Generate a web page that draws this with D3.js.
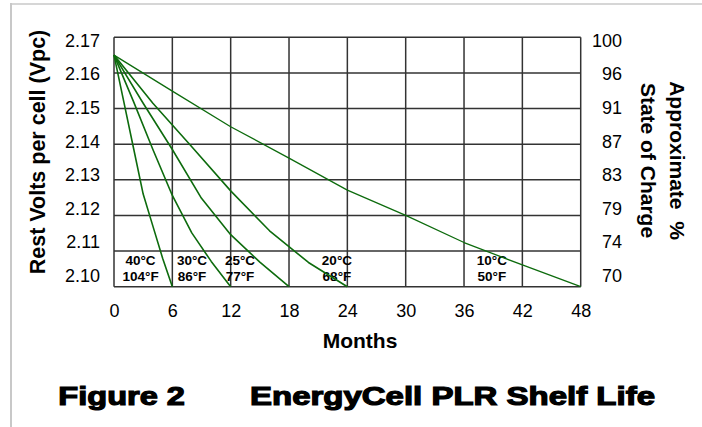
<!DOCTYPE html>
<html lang="en">
<head>
<meta charset="UTF-8">
<title>EnergyCell PLR Shelf Life</title>
<script src="https://d3js.org/d3.v7.min.js"></script>
<style>
  body { margin: 0; background: #fff; }
  svg { display: block; font-family: "Liberation Sans", Arial, sans-serif; }
</style>
</head>
<body>
<div id="chart"></div>
<script>

// data
const tempC = ["40°C", "30°C", "25°C", "20°C", "10°C"];
const tempF = ["104°F", "86°F", "77°F", "68°F", "50°F"];

const months40 = [0, 1, 2, 3, 4, 5, 6];
const volts40  = [2.165, 2.152, 2.139, 2.126, 2.117, 2.108, 2.100];
const months30 = [0, 2, 4, 6, 8, 10, 12];
const volts30  = [2.165, 2.152, 2.1385, 2.1256, 2.1151, 2.1071, 2.100];
const months25 = [0, 3, 6, 9, 12, 15, 18];
const volts25  = [2.165, 2.1515, 2.1385, 2.1248, 2.1146, 2.1069, 2.100];
const months20 = [0, 4, 8, 12, 16, 20, 24];
const volts20  = [2.165, 2.1515, 2.1393, 2.1269, 2.1157, 2.1068, 2.100];
const months10 = [0, 6, 12, 18, 24, 30, 36, 42, 48];
const volts10  = [2.165, 2.1549, 2.1449, 2.1361, 2.1271, 2.120, 2.1124, 2.1061, 2.100];

const monthTicks = [0, 6, 12, 18, 24, 30, 36, 42, 48];
const voltTicks  = [2.10, 2.11, 2.12, 2.13, 2.14, 2.15, 2.16, 2.17];
const chargeTicks = [70, 74, 79, 83, 87, 91, 96, 100];

const curves = [
  [months40, volts40],
  [months30, volts30],
  [months25, volts25],
  [months20, volts20],
  [months10, volts10]
];

// layout
const W = 702, H = 427;
const plot = { left: 114, right: 580.7, top: 37.3, bottom: 286.7 };
// where each temperature label sits (month at its centre)
const labelAt = [2.73, 8.02, 12.96, 22.93, 38.87];

const svg = d3.select("#chart").append("svg")
  .attr("width", W)
  .attr("height", H);

// page frame
svg.append("line").attr("x1", 10).attr("x2", W).attr("y1", 4).attr("y2", 4)
  .attr("stroke", "#c8c8c8").attr("stroke-width", 1.5);
svg.append("line").attr("x1", 11).attr("x2", 11).attr("y1", 3).attr("y2", H)
  .attr("stroke", "#c8c8c8").attr("stroke-width", 2);

const x = d3.scaleLinear().domain([0, 48]).range([plot.left, plot.right]);
const y = d3.scaleLinear().domain([2.10, 2.17]).range([plot.bottom, plot.top]);
// the tick labels in the figure are spaced a little tighter than the grid
const yLab = d3.scaleLinear().domain([2.10, 2.17]).range([275.7, 40.4]);

// grid
const grid = svg.append("g").attr("stroke", "#333").attr("stroke-width", 1.5);
grid.selectAll(".v").data(monthTicks).enter().append("line")
  .attr("x1", d => x(d)).attr("x2", d => x(d))
  .attr("y1", plot.top).attr("y2", plot.bottom);
grid.selectAll(".h").data(voltTicks).enter().append("line")
  .attr("x1", plot.left).attr("x2", plot.right)
  .attr("y1", d => y(d)).attr("y2", d => y(d));

// axes
const axX = svg.append("g")
  .attr("transform", "translate(0," + plot.bottom + ")")
  .call(d3.axisBottom(x).tickValues(monthTicks).tickSize(0).tickPadding(17.5));

const axL = svg.append("g")
  .attr("transform", "translate(" + plot.left + ",0)")
  .call(d3.axisLeft(yLab).tickValues(voltTicks).tickFormat(d3.format(".2f"))
    .tickSize(0).tickPadding(14));

const axR = svg.append("g")
  .attr("transform", "translate(622,0)")
  .call(d3.axisLeft(yLab).tickValues(voltTicks)
    .tickFormat((d, i) => chargeTicks[i]).tickSize(0).tickPadding(0));

[axX, axL, axR].forEach(a => {
  a.select(".domain").remove();
  a.selectAll("text")
    .attr("fill", "#000")
    .style("font-size", "18px")
    .style("font-family", "'Liberation Sans', Arial, sans-serif");
});

// axis titles
svg.append("text")
  .attr("transform", "translate(45,152) rotate(-90)")
  .attr("text-anchor", "middle")
  .style("font-size", "21.5px").style("font-weight", "bold")
  .text("Rest Volts per cell (Vpc)");

svg.append("text")
  .attr("transform", "translate(669.5,160.5) rotate(90)")
  .attr("text-anchor", "middle")
  .style("font-size", "21px").style("font-weight", "bold")
  .style("white-space", "pre")
  .text("Approximate  %");

svg.append("text")
  .attr("transform", "translate(641,160.5) rotate(90)")
  .attr("text-anchor", "middle")
  .style("font-size", "21px").style("font-weight", "bold")
  .text("State of Charge");

svg.append("text")
  .attr("x", 360).attr("y", 348)
  .attr("text-anchor", "middle")
  .style("font-size", "21px").style("font-weight", "bold")
  .text("Months");

// temperature labels
const labs = svg.append("g")
  .attr("text-anchor", "middle")
  .style("font-size", "13.5px").style("font-weight", "bold");
labs.selectAll(".c").data(tempC).enter().append("text")
  .attr("x", (d, i) => x(labelAt[i])).attr("y", 265)
  .text(d => d);
labs.selectAll(".f").data(tempF).enter().append("text")
  .attr("x", (d, i) => x(labelAt[i])).attr("y", 281)
  .text(d => d);

// curves
const line = d3.line().x(d => x(d[0])).y(d => y(d[1]));
svg.append("g").selectAll("path").data(curves).enter().append("path")
  .attr("d", c => line(c[0].map((m, i) => [m, c[1][i]])))
  .attr("fill", "none")
  .attr("stroke", "#0d6b0d")
  .attr("stroke-width", (c, i) => i === 4 ? 1.3 : 1.6)
  .attr("stroke-linejoin", "round");

// figure caption
const cap = svg.append("g")
  .style("font-size", "26px").style("font-weight", "bold")
  .attr("stroke", "#000").attr("stroke-width", 1.2);
cap.append("text").attr("x", 58.3).attr("y", 405)
  .attr("textLength", 126.7).attr("lengthAdjust", "spacingAndGlyphs")
  .text("Figure 2");
cap.append("text").attr("x", 250).attr("y", 405)
  .attr("textLength", 405).attr("lengthAdjust", "spacingAndGlyphs")
  .text("EnergyCell PLR Shelf Life");

</script>
</body>
</html>
